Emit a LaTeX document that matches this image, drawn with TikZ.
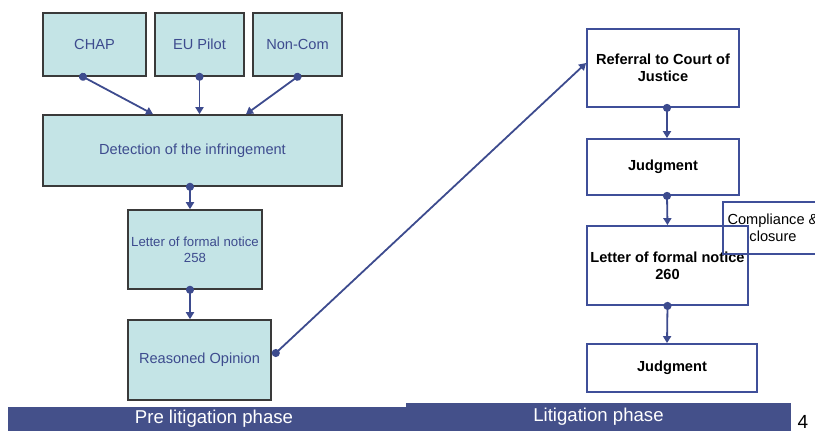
\documentclass[tikz,border=0pt]{standalone}
\usepackage{fontspec}
\setmainfont{Liberation Sans}
\usetikzlibrary{arrows.meta,shapes}
\definecolor{boxfill}{HTML}{C4E4E6}
\definecolor{boxline}{HTML}{3A3A3A}
\definecolor{inkblue}{HTML}{3D4B8E}
\definecolor{courtblue}{HTML}{3F4F99}
\definecolor{barblue}{HTML}{44508A}
\tikzstyle{stage}=[rectangle, draw=boxline
,fill=boxfill
,line width=1.6pt
,text=inkblue
,align=center
,inner sep=0pt
,font=\fontsize{14.6}{17}\selectfont
]
\tikzstyle{court}=[rectangle, draw=courtblue
,line width=1.8pt
,text=black
,align=center
,inner sep=0pt
,font=\fontsize{14.6}{17}\selectfont\bfseries
]
\tikzstyle{phase}=[rectangle, fill=barblue, text=white, inner sep=0pt
,font=\fontsize{18.6}{20}\selectfont]
\tikzstyle{link} = [draw=inkblue,line width=1.8pt,{Circle[length=8pt]}-{Triangle[length=7pt,width=8pt]},shorten <=-4pt]

\begin{document}
\begin{tikzpicture}[x=1pt,y=-1pt]
    \useasboundingbox (0,0) rectangle (815,431);
    % Pre litigation: the three sources
    \foreach \pos/\name/\txt/\boxw in {{(94.5,44.5)/chap/CHAP/103}, {(199.5,44.5)/eupilot/EU Pilot/89}, {(297.5,44.5)/noncom/Non-Com/89}}
        \node[stage, minimum width=\boxw, minimum height=63] (\name) at \pos {\txt};

    \node[stage, minimum width=299, minimum height=71] (detect) at (192.5,150.5) {Detection of the infringement};
    \node[stage, font=\fontsize{13.2}{16}\selectfont, minimum width=134, minimum height=79] (l258) at (195,249.5) {Letter of formal notice\\258};
    \node[stage, minimum width=143, minimum height=80] (opinion) at (199.5,360) {Reasoned Opinion};

    % Litigation boxes
    \node[court, minimum width=152, minimum height=78] (referral) at (663,68) {Referral to Court of\\Justice};
    \node[court, minimum width=152, minimum height=56] (judg1) at (663,167) {Judgment};
    \node[court, minimum width=161, minimum height=79] (l260) at (667.5,265.5) {Letter of formal notice\\260};
    \node[court, minimum width=170, minimum height=48] (judg2) at (672,368) {Judgment};
    \node[court, line width=1.5pt, font=\fontsize{14.6}{17}\selectfont, minimum width=100, minimum height=52] (comply) at (773,228) {Compliance \&\\closure};

    % Connect the boxes
    \path[link] ([xshift=-11.5pt]chap.south) -- ([xshift=-39.5pt]detect.north);
    \path[link] (eupilot.south) -- (eupilot.south |- detect.north);
    \path[link] (noncom.south) -- ([xshift=53.5pt]detect.north);
    \path[link] ([xshift=-2.5pt]detect.south) -- ([xshift=-5pt]l258.north);
    \path[link] ([xshift=-5pt]l258.south) -- ([xshift=-9.5pt]opinion.north);
    \path[link] ([xshift=4pt,yshift=7pt]opinion.east) -- ([yshift=5pt]referral.west);
    \path[link] ([xshift=4pt]referral.south) -- ([xshift=4pt]judg1.north);
    \path[link] ([xshift=4pt]judg1.south) -- (l260.north);
    \path[link] (l260.south) -- ([xshift=-5pt]judg2.north);

    % Phase bars
    \node[phase, minimum width=412, minimum height=24] (prebar) at (214,419) {Pre litigation phase};
    \node[phase, minimum width=385, minimum height=28] (litbar) at (598.5,417) {Litigation phase};
    \node[font=\fontsize{19}{20}\selectfont, inner sep=0pt] (pagenum) at (803,422) {4};
\end{tikzpicture}
\end{document}
